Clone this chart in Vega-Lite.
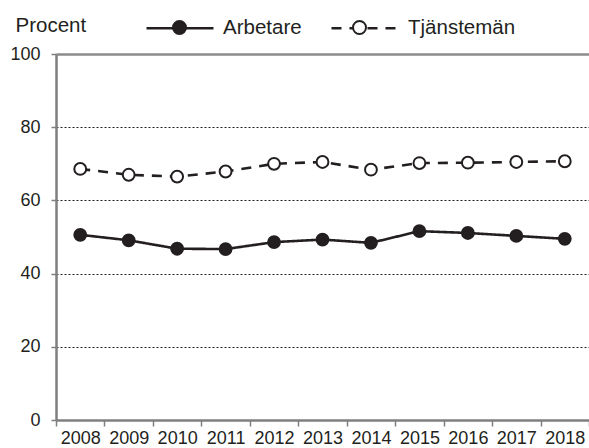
{
  "$schema": "https://vega.github.io/schema/vega-lite/v6.json",
  "width": 533,
  "height": 366,
  "autosize": {"type": "none"},
  "padding": {"left": 56, "top": 54, "right": 0, "bottom": 28},
  "background": "white",
  "config": {
    "font": "Liberation Sans",
    "view": {"stroke": null}
  },
  "data": {
    "values": [
      {"year": "2008", "series": "Arbetare", "value": 50.6},
      {"year": "2009", "series": "Arbetare", "value": 49.1},
      {"year": "2010", "series": "Arbetare", "value": 46.8},
      {"year": "2011", "series": "Arbetare", "value": 46.7},
      {"year": "2012", "series": "Arbetare", "value": 48.6},
      {"year": "2013", "series": "Arbetare", "value": 49.3},
      {"year": "2014", "series": "Arbetare", "value": 48.4},
      {"year": "2015", "series": "Arbetare", "value": 51.6},
      {"year": "2016", "series": "Arbetare", "value": 51.1},
      {"year": "2017", "series": "Arbetare", "value": 50.3},
      {"year": "2018", "series": "Arbetare", "value": 49.5},
      {"year": "2008", "series": "Tjänstemän", "value": 68.6},
      {"year": "2009", "series": "Tjänstemän", "value": 67.0},
      {"year": "2010", "series": "Tjänstemän", "value": 66.5},
      {"year": "2011", "series": "Tjänstemän", "value": 67.9},
      {"year": "2012", "series": "Tjänstemän", "value": 70.0},
      {"year": "2013", "series": "Tjänstemän", "value": 70.5},
      {"year": "2014", "series": "Tjänstemän", "value": 68.4},
      {"year": "2015", "series": "Tjänstemän", "value": 70.2},
      {"year": "2016", "series": "Tjänstemän", "value": 70.3},
      {"year": "2017", "series": "Tjänstemän", "value": 70.5},
      {"year": "2018", "series": "Tjänstemän", "value": 70.7}
    ]
  },
  "layer": [
    {
      "mark": {"type": "line", "stroke": "#231f20", "strokeWidth": 2.6},
      "encoding": {
        "x": {
          "field": "year", "type": "ordinal", "bandPosition": 0.5,
          "scale": {"type": "band", "paddingInner": 0, "paddingOuter": 0},
          "axis": {
            "title": null, "labelAngle": 0, "labelFontSize": 18, "labelColor": "#231f20",
            "tickSize": 6, "tickColor": "#7f7f7f", "tickWidth": 1.5, "tickBand": "extent",
            "domainColor": "#7f7f7f", "domainWidth": 2.5, "labelPadding": 3, "grid": false
          }
        },
        "y": {
          "field": "value", "type": "quantitative",
          "scale": {"domain": [0, 100]},
          "axis": {
            "values": [0, 20, 40, 60, 80, 100],
            "title": "Procent", "titleAngle": 0, "titleAlign": "left", "titleBaseline": "alphabetic",
            "titleX": -41, "titleY": -23, "titleFontSize": 20.5, "titleFontWeight": "normal", "titleColor": "#231f20",
            "labelFontSize": 18, "labelColor": "#231f20", "labelPadding": 11,
            "tickSize": 5, "tickColor": "#7f7f7f", "tickWidth": 1.5,
            "domainColor": "#7f7f7f", "domainWidth": 2.5,
            "grid": true,
            "gridColor": {"condition": {"test": "datum.value === 100", "value": "#8c8c8c"}, "value": "#231f20"},
            "gridDash": {"condition": {"test": "datum.value === 100", "value": [1, 0]}, "value": [2, 2]},
            "gridWidth": {"condition": {"test": "datum.value === 100", "value": 2.5}, "value": 1}
          }
        },
        "strokeDash": {
          "field": "series", "type": "nominal",
          "scale": {"range": [[1, 0], [10, 8]]},
          "legend": {
            "title": null, "orient": "none", "legendX": 89, "legendY": -61, "direction": "horizontal",
            "symbolType": "stroke", "symbolSize": 4489, "symbolStrokeWidth": 2.5, "symbolStrokeColor": "#231f20",
            "labelFontSize": 20.5, "labelColor": "#231f20", "labelOffset": 8, "columnPadding": 24, "padding": 0,
            "encoding": {"symbols": {"update": {"strokeDash": {"signal": "datum.value === 'Tjänstemän' ? [6,6] : [1,0]"}}}}
          }
        }
      }
    },
    {
      "mark": {"type": "point", "filled": true, "stroke": "#231f20", "strokeWidth": 2, "size": 140, "opacity": 1},
      "encoding": {
        "x": {"field": "year", "type": "ordinal", "bandPosition": 0.5},
        "y": {"field": "value", "type": "quantitative"},
        "fill": {
          "field": "series", "type": "nominal",
          "scale": {"domain": ["Arbetare", "Tjänstemän"], "range": ["#231f20", "#ffffff"]},
          "legend": {
            "title": null, "orient": "none", "legendX": 89, "legendY": -61, "direction": "horizontal",
            "symbolType": "M-0.194,0A0.194,0.194,0,1,0,0.194,0A0.194,0.194,0,1,0,-0.194,0Z",
            "symbolSize": 4489, "symbolStrokeWidth": 2, "symbolStrokeColor": "#231f20", "symbolOpacity": 1,
            "labelExpr": "''", "labelFontSize": 20.5, "labelOffset": 8, "columnPadding": 103, "padding": 0
          }
        }
      }
    }
  ]
}
